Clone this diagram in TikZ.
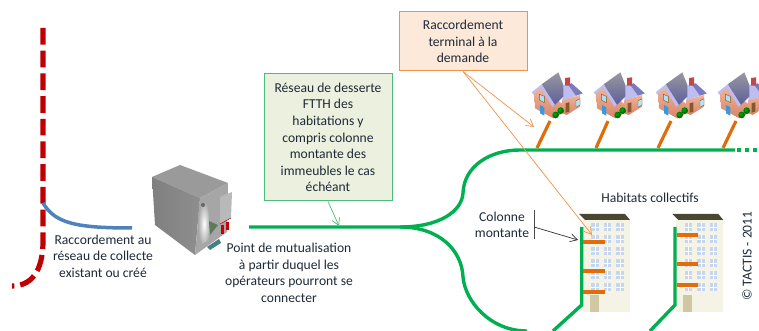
\documentclass[tikz,border=0pt]{standalone}
\usepackage{fontspec}
\setmainfont{Carlito}
\usetikzlibrary{arrows.meta}
\definecolor{fibre}{HTML}{00B050}
\definecolor{drop}{HTML}{E36C0A}
\definecolor{collect}{HTML}{C00000}
\definecolor{feeder}{HTML}{4F81BD}
\definecolor{txt}{HTML}{1F2A38}
\definecolor{peachfill}{HTML}{FDE9D9}
\definecolor{peachline}{HTML}{F0924A}
\definecolor{greenfill}{HTML}{EBF1DE}
\definecolor{greenline}{HTML}{4DBB7C}
\definecolor{wall}{HTML}{F5F3E6}
\definecolor{pane}{HTML}{C6D6EC}
\definecolor{brickdark}{HTML}{D98468}
\definecolor{bricklight}{HTML}{F0B498}
\definecolor{slate}{HTML}{5C5C9E}
\definecolor{slatelight}{HTML}{98989E}
\definecolor{lavender}{HTML}{BDBDF0}
\definecolor{lavenderdark}{HTML}{7A7ABC}
\definecolor{chimney}{HTML}{C04848}
\definecolor{roofdark}{HTML}{4A4632}
\definecolor{doorsand}{HTML}{CFC8A0}
\definecolor{shelterleft}{HTML}{8E8E8E}
\definecolor{shelterright}{HTML}{A6A6A6}
\definecolor{sheltertop}{HTML}{9A9A9A}
\definecolor{shelterfloor}{HTML}{5E7A60}
\tikzset{
  label text/.style={font=\fontsize{13.6}{16.6}\selectfont,text=txt,align=center,inner sep=0pt},
  callout/.style={draw,line width=1pt,align=center,font=\fontsize{13.6}{16.6}\selectfont,text=txt,inner sep=0pt},
  fibre line/.style={draw=fibre,line width=3.4pt},
  drop line/.style={draw=drop,line width=3.2pt},
  pointer/.style={-{Straight Barb[length=7pt,width=8pt]},line width=0.7pt},
}
\newcommand{\housepic}[1]{%
\begin{scope}[shift={(#1,281)},x=0.3333pt,y=-0.3333pt]
 \shade[top color=bricklight,bottom color=brickdark] (103,130)--(125,110)--(190,165)--(187,190)--(160,205)--(105,175)--cycle;
 \shade[top color=bricklight,bottom color=brickdark] (187,150)--(240,135)--(240,170)--(200,195)--(187,190)--cycle;
 \fill[lavender] (190,105)--(215,100)--(248,130)--(187,152)--cycle;
 \fill[lavenderdark] (205,105)--(215,100)--(248,130)--(228,137)--cycle;
 \shade[top color=slatelight,bottom color=slate] (175,67)--(125,103)--(163,167)--(190,140)--(190,105)--cycle;
 \fill[lavender] (95,127)--(125,103)--(165,165)--(157,170)--(123,114)--(100,134)--cycle;
 \fill[chimney] (195,84)--(210,82)--(210,107)--(195,107)--cycle;
 \fill[cyan!35!white,draw=brown!70!black,line width=0.4pt] (118,133)--(133,139)--(133,158)--(118,150)--cycle;
 \fill[cyan!70!blue!80!white] (120,165)--(133,172)--(133,197)--(120,190)--cycle;
 \fill[brown!70!black] (197,160)--(208,157)--(208,185)--(197,188)--cycle;
 \fill[cyan!30!white,draw=brown!70!black,line width=0.4pt] (228,152)--(240,146)--(240,165)--(228,172)--cycle;
 \fill[green!45!black] (167,195) circle [radius=10] (182,182) circle [radius=10];
 \fill[green!60!black] (165,193) circle [radius=6] (180,180) circle [radius=6];
\end{scope}}
\newcommand{\tower}[1]{%
\begin{scope}[shift={(#1,0)}]
 \fill[wall] (583,19) rectangle (630,111);
 \fill[roofdark] (579,117)--(625,117)--(630,111)--(585,111)--cycle;
 \foreach \px in {595,607.7,620}{\foreach \py in {44,56,68,80,92,104}{
   \fill[pane] ({\px-3.7},{\py-3.7}) rectangle ({\px+3.7},{\py+3.7});
   \draw[white,line width=0.5pt] (\px,{\py-3.7}) -- (\px,{\py+3.7}) ({\px-3.7},\py) -- ({\px+3.7},\py);
 }}
 \fill[doorsand] (590,19) rectangle (599,36);
\end{scope}}
\begin{document}
\begin{tikzpicture}[x=1pt,y=1pt]
\useasboundingbox (0,0) rectangle (759,331);
\fill[white] (0,0) rectangle (759,331);
\begin{scope}
\clip (0,0) rectangle (759,331);
% collection network
\draw[collect,line width=5.2pt,dash pattern=on 16.7pt off 6pt] (43,303) -- (43,90) .. controls (43,58) and (30,45) .. (12,45);
\draw[feeder,line width=3.5pt] (43,128) .. controls (55,108) and (75,103) .. (132,103);
% shelter
\fill[sheltertop] (152,154)--(180,166)--(228,148)--(200,133)--cycle;
\shade[left color=shelterleft!90!black,right color=shelterleft] (152,154)--(200,133)--(195,76)--(155,106)--cycle;
\fill[shelterright] (200,133)--(228,148)--(227,99)--(195,76)--cycle;
\shade[inner color=white,outer color=shelterright] (199,128)--(209,130)--(210,92)--(198,84)--cycle;
\fill[gray!70!white] (208,129)--(219,133)--(218,106)--(210,96)--cycle;
\fill[shelterfloor] (209,110)--(218,106)--(210,96)--cycle;
\fill[gray!55!white] (220,134)--(232,139)--(231,113)--(220,107)--cycle;
\draw[red!70!black,line width=0.5pt] (220,107) -- (231,113);
\fill[red!80!black] (221,106) rectangle (224,97);
\fill[red!80!black] (226,109) rectangle (229,101);
\fill[teal!45!gray] (207,84)--(219,92)--(221,88)--(210,81)--cycle;
\fill[gray!80!black] (203,126) circle [radius=2];
% buildings
\tower{0}
\tower{93.3}
% fibre network
\draw[fibre line] (249,104) -- (400,104) .. controls (440,104) and (462,120) .. (463,138) .. controls (464,165) and (490,181) .. (520,181) -- (735,181);
\draw[fibre line,dash pattern=on 4pt off 4pt] (737,181) -- (759,181);
\draw[fibre line] (400,104) .. controls (440,104) and (462,80) .. (463,54) .. controls (465,30) and (490,0) .. (527,0);
\draw[fibre line] (581.7,104) -- (581.7,26) -- (553,0);
\draw[fibre line] (675,104) -- (675,26) -- (650,0);
% risers
\draw[drop line] (583,89) -- (605,89);
\draw[drop line] (583,60) -- (605,60);
\draw[drop line] (583,39) -- (605,39);
\draw[drop line] (677,96) -- (698,96);
\draw[drop line] (677,67) -- (698,67);
\draw[drop line] (677,46) -- (698,46);
% drops to houses
\draw[drop line] (550,210) -- (537,183);
\draw[drop line] (608,210) -- (596,183);
\draw[drop line] (671,210) -- (658,183);
\draw[drop line] (736,210) -- (723,183);
\end{scope}
% houses
\housepic{500}
\housepic{562}
\housepic{624}
\housepic{686}
% callouts
\node[callout,draw=peachline,fill=peachfill,minimum width=128pt,minimum height=59pt] (peach) at (463,289.5) {Raccordement\\terminal à la\\demande};
\node[callout,draw=greenline,fill=greenfill,minimum width=128pt,minimum height=127pt] (greenbox) at (328,193.5) {Réseau de desserte\\FTTH des\\habitations y\\compris colonne\\montante des\\immeubles le cas\\échéant};
\coordinate (tipA) at (339,105);
\coordinate (tipB) at (534,204);
\coordinate (tipC) at (592,96);
\coordinate (barTop) at (534,121);
\coordinate (barBot) at (534,92);
\coordinate (barMid) at (534,104);
\coordinate (tipD) at (578,91);
\draw[pointer,draw=greenline] (greenbox.south) -- (tipA);
\draw[pointer,draw=peachline] (peach.south) -- (tipB);
\draw[pointer,draw=peachline] (peach.south) -- (tipC);
\draw[line width=0.8pt,draw=black!70] (barTop) -- (barBot);
\draw[pointer,draw=black!80] (barMid) -- (tipD);
% labels
\node[label text] (collecte) at (103,75) {Raccordement au\\réseau de collecte\\existant ou créé};
\node[label text] (mutual) at (289,58) {Point de mutualisation\\à partir duquel les\\opérateurs pourront se\\connecter};
\node[label text] (colonne) at (502,106) {Colonne\\montante};
\node[label text] (habitats) at (650,133) {Habitats collectifs};
\node[label text,rotate=90] (copy) at (747,75) {© TACTIS - 2011};
\end{tikzpicture}
\end{document}
